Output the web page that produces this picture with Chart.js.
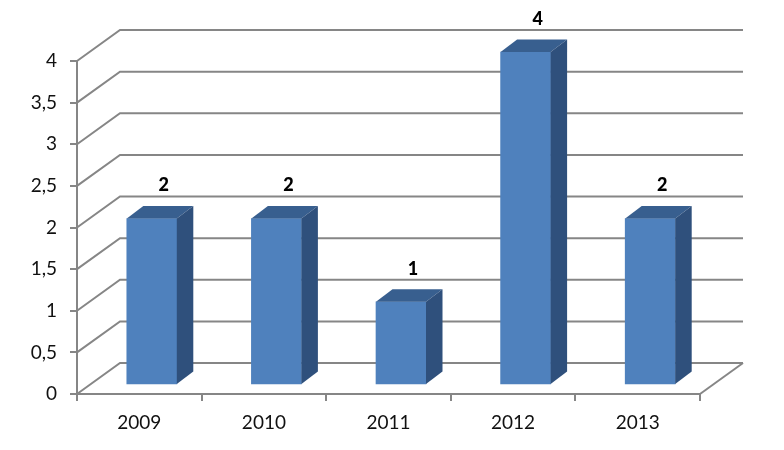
<!DOCTYPE html>
<html>
<head>
<meta charset="utf-8">
<script src="https://cdn.jsdelivr.net/npm/chart.js@4"></script>
<style>
  html, body { margin: 0; background: #fff; }
  canvas { display: block; }
</style>
</head>
<body>
<canvas id="chart" width="784" height="450"></canvas>
<script>
const categories = ['2009', '2010', '2011', '2012', '2013'];
const values = [2, 2, 1, 4, 2];

const lineColor = '#868686';
const wallDx = 43, wallDy = -31;     // depth of the fake 3D box
const barDx = 12.5, barDy = -9;      // bars stand in the middle of the floor
const sideDx = 16.5, sideDy = -12.5; // depth of one bar

const walls = {
  id: 'walls',
  beforeDatasetsDraw(chart) {
    const { ctx, scales: { x, y } } = chart;
    ctx.save();
    ctx.strokeStyle = lineColor;
    ctx.lineWidth = 2;
    y.ticks.forEach(t => {
      const py = y.getPixelForValue(t.value);
      ctx.beginPath();
      ctx.moveTo(x.left, py);
      ctx.lineTo(x.left + wallDx, py + wallDy);
      ctx.lineTo(x.right + wallDx, py + wallDy);
      ctx.stroke();
    });
    // right edge of the floor
    const y0 = y.getPixelForValue(0);
    ctx.beginPath();
    ctx.moveTo(x.right, y0);
    ctx.lineTo(x.right + wallDx, y0 + wallDy);
    ctx.stroke();
    ctx.restore();
  }
};

const bars3d = {
  id: 'bars3d',
  beforeDatasetDraw(chart) {
    chart.ctx.save();
    chart.ctx.translate(barDx, barDy);
  },
  afterDatasetDraw(chart, args) {
    const ctx = chart.ctx;
    args.meta.data.forEach((bar, i) => {
      const r = bar.x + bar.width / 2, l = bar.x - bar.width / 2;
      // top
      ctx.fillStyle = '#385f8f';
      ctx.beginPath();
      ctx.moveTo(l, bar.y);
      ctx.lineTo(l + sideDx, bar.y + sideDy);
      ctx.lineTo(r + sideDx, bar.y + sideDy);
      ctx.lineTo(r, bar.y);
      ctx.closePath();
      ctx.fill();
      // side
      ctx.fillStyle = '#2f507c';
      ctx.beginPath();
      ctx.moveTo(r, bar.y);
      ctx.lineTo(r + sideDx, bar.y + sideDy);
      ctx.lineTo(r + sideDx, bar.base + sideDy);
      ctx.lineTo(r, bar.base);
      ctx.closePath();
      ctx.fill();
      // value label
      ctx.fillStyle = '#000';
      ctx.font = '900 18px Lato';
      ctx.textAlign = 'center';
      ctx.textBaseline = 'middle';
      ctx.fillText(values[i], bar.x + 12, bar.y - 33);
    });
    ctx.restore();
  }
};

new Chart(document.getElementById('chart'), {
  type: 'bar',
  data: {
    labels: categories,
    datasets: [{
      data: values,
      backgroundColor: '#4f81bd',
      barThickness: 50,
      clip: false
    }]
  },
  plugins: [walls, bars3d],
  options: {
    responsive: false,
    animation: false,
    layout: { padding: { top: 61, right: 84, left: 0, bottom: 0 } },
    plugins: { legend: { display: false }, tooltip: { enabled: false } },
    scales: {
      x: {
        afterFit(scale) { scale.height = 56; },
        border: { color: lineColor, width: 2 },
        grid: { drawOnChartArea: false, color: lineColor, lineWidth: 2, tickLength: 7 },
        ticks: { color: '#111', font: { family: 'Lato', size: 19 }, padding: 10 }
      },
      y: {
        min: 0,
        max: 4,
        afterFit(scale) { scale.width = 77; },
        border: { color: lineColor, width: 2 },
        grid: { drawOnChartArea: false, color: lineColor, lineWidth: 2, tickLength: 7 },
        ticks: {
          stepSize: 0.5,
          color: '#111',
          font: { family: 'Lato', size: 19 },
          padding: 13,
          callback: v => String(v).replace('.', ',')
        }
      }
    }
  }
});
</script>
</body>
</html>
